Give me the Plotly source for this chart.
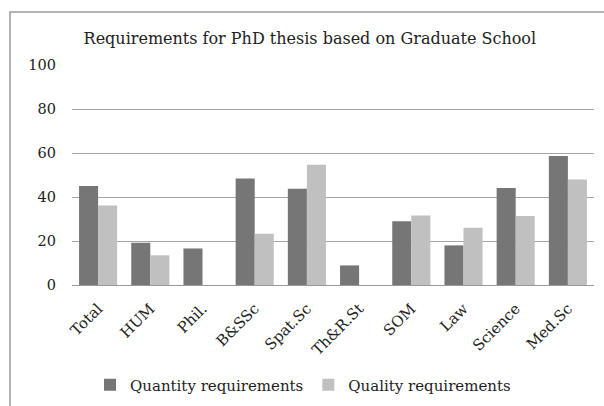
import plotly.graph_objects as go

categories = ["Total", "HUM", "Phil.", "B&SSc", "Spat.Sc", "Th&R.St", "SOM", "Law", "Science", "Med.Sc"]
quantity = [45.0, 19.2, 16.6, 48.4, 43.7, 8.9, 29.0, 18.0, 44.1, 58.6]
quality = [36.1, 13.5, None, 23.3, 54.7, None, 31.6, 26.0, 31.4, 47.9]
y_ticks = [0, 20, 40, 60, 80, 100]

FONT = "DejaVu Serif"

fig = go.Figure()
fig.add_trace(go.Bar(x=categories, y=quantity, name="Quantity requirements",
                     marker=dict(color="#767676", line=dict(width=0))))
fig.add_trace(go.Bar(x=categories, y=quality, name="Quality requirements",
                     marker=dict(color="#c0c0c0", line=dict(width=0))))

fig.update_layout(
    width=604, height=406,
    margin=dict(l=72, r=10, t=65, b=121, autoexpand=False),
    paper_bgcolor="white", plot_bgcolor="white",
    barmode="group", bargap=0.27, bargroupgap=0,
    font=dict(family=FONT, size=14, color="#222"),
    title=dict(text="Requirements for PhD thesis based on Graduate School",
               x=0.513, xanchor="center", y=1 - 38 / 406, yanchor="middle",
               font=dict(family=FONT, size=16, color="#222")),
    showlegend=True,
    legend=dict(orientation="h", x=0.4425, xanchor="center", y=-0.455, yanchor="middle",
                font=dict(family=FONT, size=15, color="#222"),
                tracegroupgap=0),
    xaxis=dict(tickangle=-45, showgrid=False, showline=True, linecolor="#999",
               linewidth=1, ticks="", automargin=False, ticklabelstandoff=8,
               tickfont=dict(family=FONT, size=15)),
    yaxis=dict(range=[0, 100], tickvals=y_ticks, showgrid=True, gridcolor="#a6a6a6",
               gridwidth=1, zeroline=False, showline=False, ticks="", automargin=False,
               ticklabelstandoff=15, tickfont=dict(family=FONT, size=14.5)),
)

# chart area border (left and top edges visible)
fig.add_shape(type="rect", xref="paper", yref="paper",
              x0=(10 - 72) / 522, x1=(640 - 72) / 522,
              y0=(285 - 430) / 220, y1=(285 - 12) / 220,
              line=dict(color="#9a9a9a", width=1.5), layer="below")

fig.write_html("out.html", config={"displayModeBar": False},
               post_script="document.body.style.margin='0';")
